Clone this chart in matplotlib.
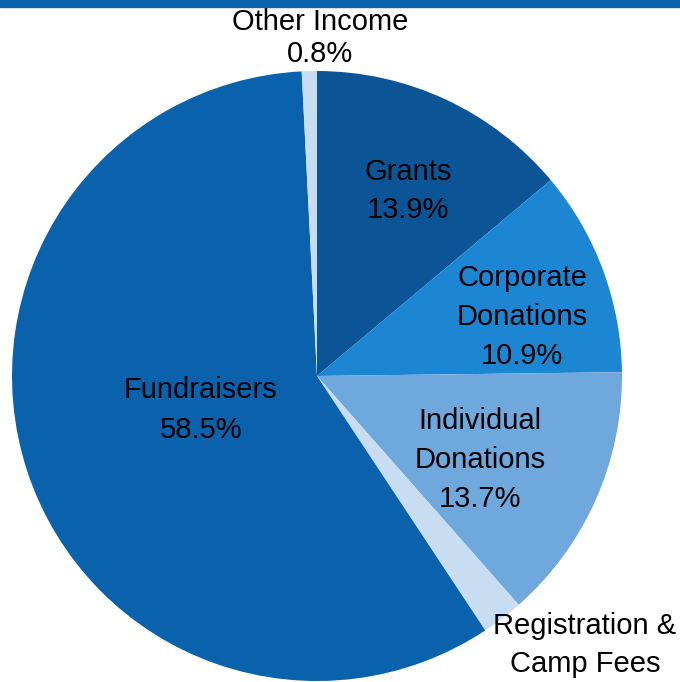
import matplotlib
matplotlib.use('Agg')
import matplotlib.pyplot as plt
from matplotlib.patches import Rectangle

plt.rcParams['font.family'] = ['Liberation Sans', 'DejaVu Sans']

# income breakdown, clockwise from 12 o'clock
categories = ['Grants', 'Corporate\nDonations', 'Individual\nDonations',
              'Registration &\nCamp Fees', 'Fundraisers', 'Other Income']
shares = [13.9, 10.9, 13.7, 2.2, 58.5, 0.8]
show_pct = [True, True, True, False, True, True]
colors = ['#0b5597', '#1c86d2', '#6fa8dc', '#c8ddf1', '#0a62ad', '#c8ddf1']

# label anchor (x, y) in figure pixels, y from top
label_pos = [(408, 191), (522, 317), (480, 460), (585, 645), (201, 410), (320, 38)]
W, H = 680, 682


def main():
	fig = plt.figure(figsize=(W / 100, H / 100), dpi=100)
	ax = fig.add_axes([0, 0, 1, 1])

	ax.pie(shares, colors=colors, startangle=90, counterclock=False,
	       center=(317, H - 376), radius=305, frame=True,
	       wedgeprops=dict(linewidth=0))
	ax.set_xlim(0, W)
	ax.set_ylim(0, H)
	ax.set_aspect('equal')
	ax.axis('off')

	# top rule
	ax.add_patch(Rectangle((0, H - 7), W, 7, color='#0a64ad', clip_on=False))

	for cat, val, show, (x, y) in zip(categories, shares, show_pct, label_pos):
		txt = '%s\n%.1f%%' % (cat, val) if show else cat
		ls = 1.2 if cat == 'Other Income' else 1.5
		ax.text(x, H - y, txt, ha='center', va='center',
		        fontsize=21, linespacing=ls, color='black')

	fig.savefig('out.png', dpi=100)


if __name__ == '__main__':
	main()
